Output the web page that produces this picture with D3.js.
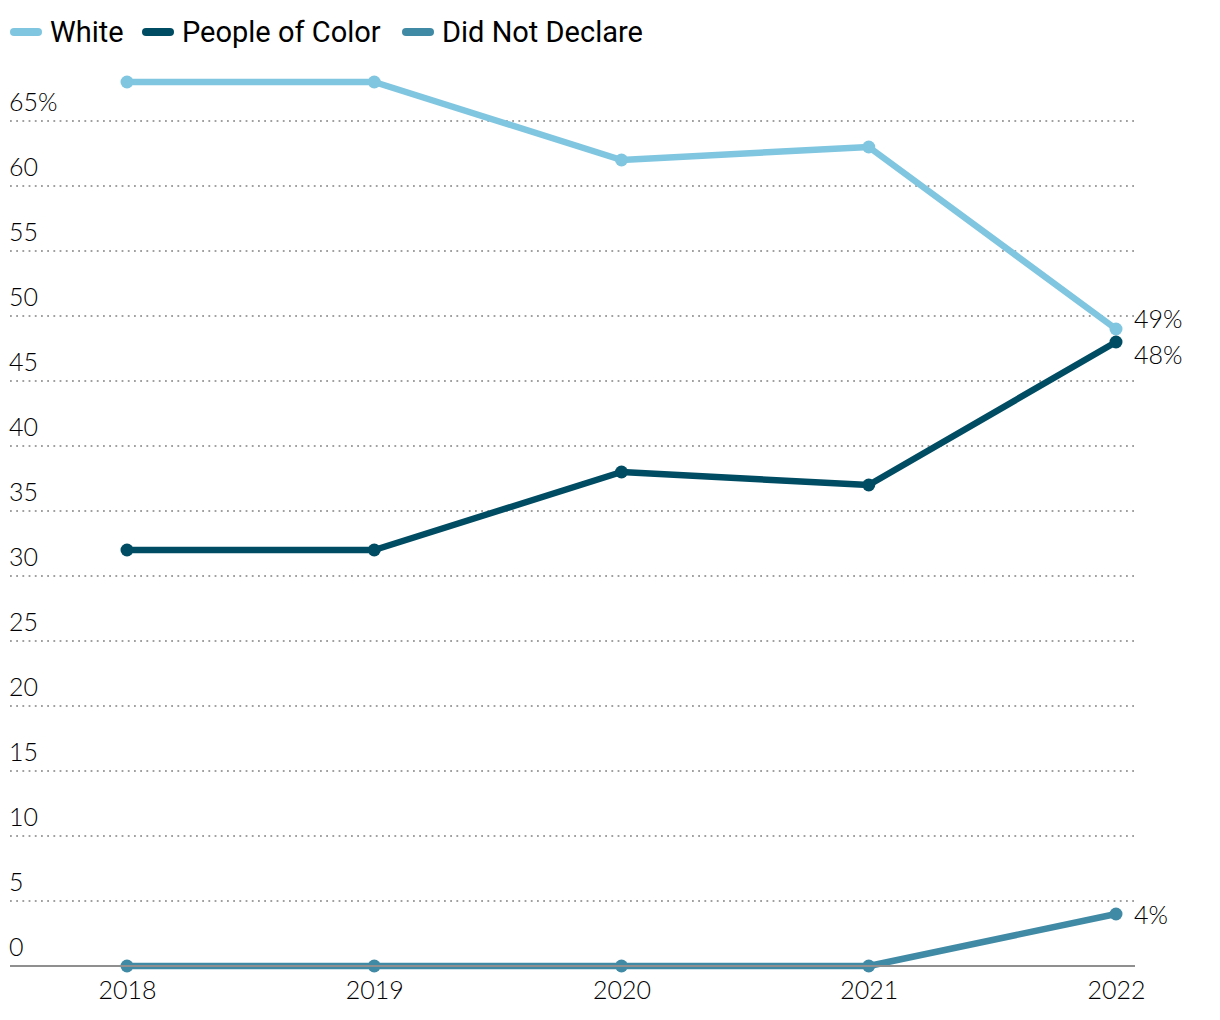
<!DOCTYPE html>
<html><head><meta charset="utf-8">
<script src="https://cdn.jsdelivr.net/npm/d3@7"></script>
<style>
body{margin:0;background:#fff;}
svg{display:block;}
</style></head>
<body>
<svg id="chart" width="1220" height="1020"></svg>
<script>
const years = ["2018","2019","2020","2021","2022"];
const seriesNames = ["White","People of Color","Did Not Declare"];
const white = [68, 68, 62, 63, 49];
const peopleOfColor = [32, 32, 38, 37, 48];
const didNotDeclare = [0, 0, 0, 0, 4];
const yTicks = [0,5,10,15,20,25,30,35,40,45,50,55,60,65];
const endLabels = ["49%","48%","4%"];
const colors = ["#80c6e0","#004c63","#418aa5"];

const series = [white, peopleOfColor, didNotDeclare];
const svg = d3.select("#chart");
const x = d3.scalePoint().domain(years).range([127,1116]);
const y = d3.scaleLinear().domain([0,65]).range([966,121]);
const tickFont = "Lato, 'Open Sans', sans-serif";
const tickSize = 25;

// gridlines
const grid = svg.append("g");
grid.selectAll("line").data(yTicks.filter(d=>d>0)).join("line")
  .attr("x1",10).attr("x2",1135)
  .attr("y1",d=>y(d)).attr("y2",d=>y(d))
  .attr("stroke","#a0a0a0").attr("stroke-width",1.8).attr("stroke-dasharray","1.8,4.4");
grid.selectAll("text").data(yTicks).join("text")
  .attr("x",9).attr("y",d=>y(d)-10)
  .attr("font-family",tickFont).attr("font-weight",300).attr("font-size",tickSize).attr("fill","#000")
  .text(d=>d===65? d+"%" : d);

// x axis
const xAxis = svg.append("g").attr("transform","translate(0,966)")
  .call(d3.axisBottom(x).tickSize(0).tickPadding(12));
xAxis.select(".domain").remove();
xAxis.selectAll("text").attr("font-family",tickFont).attr("font-weight",300).attr("font-size",tickSize).attr("fill","#000").attr("dy","0.85em");

const line = d3.line().x((d,i)=>x(years[i])).y(d=>y(d));
series.forEach((s,k)=>{
  const g = svg.append("g");
  g.append("path").datum(s).attr("d",line).attr("fill","none")
    .attr("stroke",colors[k]).attr("stroke-width",6.5).attr("stroke-linejoin","round");
  g.selectAll("circle").data(s).join("circle")
    .attr("cx",(d,i)=>x(years[i])).attr("cy",d=>y(d)).attr("r",6.5).attr("fill",colors[k]);
});
// baseline on top
svg.append("line").attr("x1",10).attr("x2",1135).attr("y1",966).attr("y2",966)
  .attr("stroke","#8f8f8f").attr("stroke-width",2);

// end labels
const offs = [-10, 13, 1];
series.forEach((s,k)=>{
  svg.append("text").attr("x",1134).attr("y",y(s[4])+offs[k]).attr("dy","0.35em")
    .attr("font-family",tickFont).attr("font-weight",300).attr("font-size",tickSize).attr("fill","#000")
    .text(endLabels[k]);
});

// legend
const swX = [10,142,402];
const txX = [50,182,442];
const legend = svg.append("g");
seriesNames.forEach((n,k)=>{
  legend.append("line").attr("x1",swX[k]+4).attr("x2",swX[k]+28).attr("y1",32).attr("y2",32)
    .attr("stroke",colors[k]).attr("stroke-width",8).attr("stroke-linecap","round");
  legend.append("text").attr("x",txX[k]).attr("y",42)
    .attr("font-family","Roboto, 'Liberation Sans', sans-serif").attr("font-weight",400)
    .attr("font-size",29).attr("fill","#000").text(n);
});
</script>
</body></html>
